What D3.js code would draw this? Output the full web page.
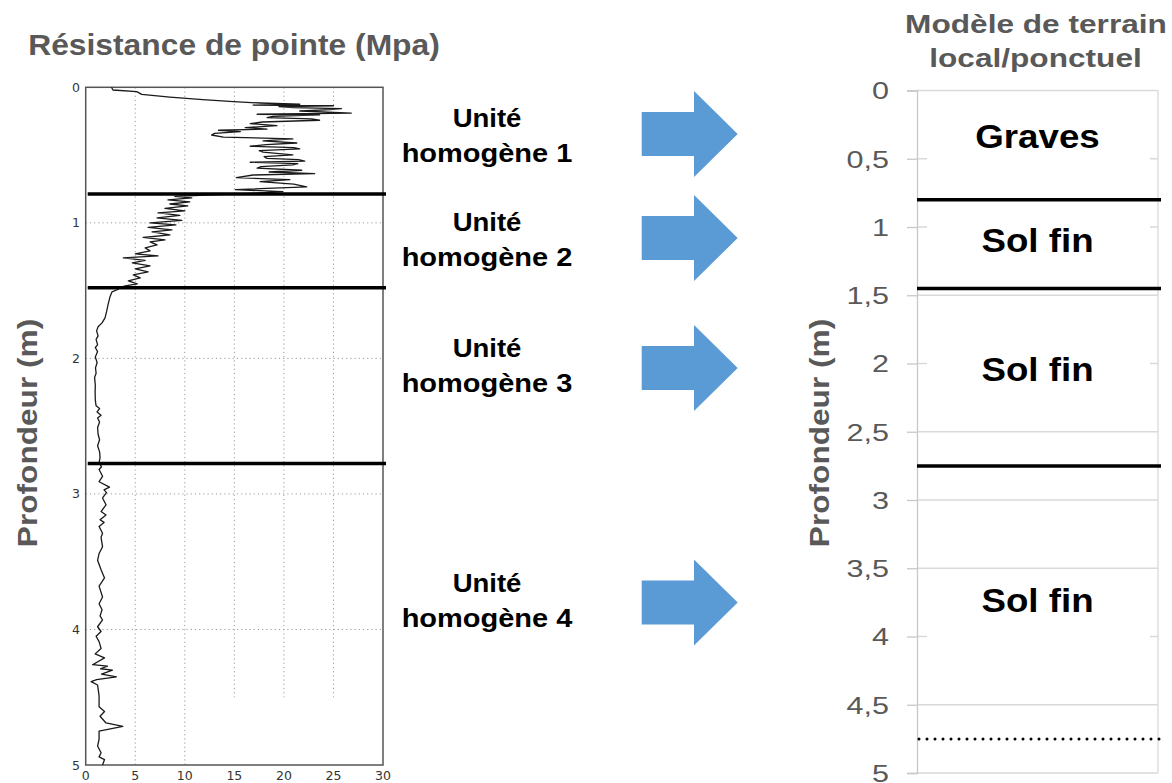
<!DOCTYPE html>
<html>
<head>
<meta charset="utf-8">
<script src="https://cdn.jsdelivr.net/npm/d3@7"></script>
<style>
  html, body { margin: 0; padding: 0; background: #fff; }
  svg { display: block; }
</style>
</head>
<body>
<svg id="chart" width="1172" height="783"></svg>
<script>
// ---- Cone penetration profile: depth (m) and tip resistance qc (MPa) ----
const depth_m = [
  0.000, 0.020, 0.032, 0.052, 0.072, 0.091, 0.106, 0.116, 0.125, 0.131,
  0.136, 0.143, 0.150, 0.158, 0.165, 0.175, 0.183, 0.190, 0.199, 0.204,
  0.214, 0.224, 0.233, 0.243, 0.256, 0.268, 0.283, 0.298, 0.308, 0.317,
  0.327, 0.340, 0.352, 0.367, 0.381, 0.396, 0.411, 0.423, 0.435, 0.445,
  0.455, 0.467, 0.479, 0.499, 0.512, 0.524, 0.534, 0.544, 0.553, 0.563,
  0.573, 0.585, 0.597, 0.612, 0.625, 0.637, 0.647, 0.667, 0.681, 0.696,
  0.715, 0.735, 0.755, 0.770, 0.780,
  0.805, 0.816, 0.831, 0.846, 0.861, 0.875, 0.894, 0.912, 0.927, 0.945,
  0.964, 0.982, 1.001, 1.015, 1.034, 1.052, 1.067, 1.089, 1.108, 1.126,
  1.141, 1.163, 1.185, 1.207, 1.229, 1.244, 1.259, 1.277, 1.296, 1.318,
  1.340, 1.362, 1.384, 1.406, 1.428, 1.451, 1.465, 1.480,
  1.490, 1.510, 1.546, 1.605, 1.657, 1.701, 1.738, 1.767, 1.797, 1.834,
  1.860, 1.900, 1.920, 1.950, 1.990, 2.030, 2.070, 2.110, 2.140, 2.200,
  2.250, 2.310, 2.350, 2.370, 2.395, 2.420, 2.440, 2.470, 2.510, 2.560,
  2.600, 2.645, 2.690, 2.730, 2.770,
  2.800, 2.820, 2.870, 2.910, 2.950, 2.970, 2.990, 3.030, 3.080, 3.130,
  3.155, 3.190, 3.210, 3.240, 3.290, 3.320, 3.390, 3.440, 3.490, 3.560,
  3.620, 3.680, 3.760, 3.810, 3.855, 3.900, 3.930, 3.980, 4.015, 4.050,
  4.090, 4.140, 4.180, 4.210, 4.260, 4.270, 4.290, 4.300, 4.330, 4.350,
  4.370, 4.385, 4.410, 4.490, 4.570, 4.605, 4.640, 4.690, 4.715, 4.750,
  4.810, 4.860, 4.910, 4.940, 4.960, 5.000
];
const qc_MPa = [
  2.6, 2.75, 5.15, 5.65, 8.5, 11.8, 14.9, 17.6, 21.6, 16.9,
  25.0, 19.5, 20.9, 25.8, 24.7, 21.6, 24.5, 26.8, 17.3, 23.6,
  18.9, 18.3, 22.8, 23.6, 17.8, 16.6, 19.3, 16.1, 18.3, 13.4,
  15.6, 13.0, 12.7, 13.9, 20.9, 17.9, 21.3, 18.2, 16.6, 21.0,
  21.6, 17.5, 17.9, 20.9, 18.0, 18.3, 21.5, 22.1, 16.6, 21.4,
  20.9, 17.7, 17.3, 21.8, 18.5, 23.1, 16.9, 15.2, 20.6, 17.6,
  21.0, 22.3, 15.1, 19.9, 17.6,
  9.0, 10.7, 8.3, 10.5, 8.5, 10.3, 8.0, 10.0, 7.3, 9.5,
  7.2, 9.7, 6.5, 9.1, 6.3, 8.7, 6.7, 8.5, 5.8, 8.0,
  6.5, 7.2, 6.0, 6.5, 5.0, 7.3, 3.8, 6.0, 4.7, 6.5,
  5.0, 6.3, 4.8, 5.5, 4.3, 5.2, 4.0, 3.3,
  3.3, 2.65, 2.45, 2.25, 2.1, 1.95, 1.65, 1.25, 1.1, 1.25,
  1.05, 1.2, 0.97, 1.2, 0.97, 1.15, 0.99, 1.05, 0.9, 0.97,
  0.95, 0.97, 1.05, 1.4, 1.15, 1.55, 1.2, 1.4, 1.2, 1.25,
  1.4, 1.2, 1.4, 1.45, 1.35,
  1.6, 1.35, 1.7, 1.35, 2.4, 1.85, 2.1, 1.7, 2.05, 1.55,
  2.05, 1.45, 1.85, 1.35, 1.7, 1.55, 1.7, 1.35, 1.2, 1.55,
  1.9, 1.35, 1.7, 1.35, 1.65, 1.45, 1.7, 1.2, 1.55, 1.05,
  1.35, 1.55, 0.95, 1.9, 0.7, 2.2, 1.5, 2.7, 1.6, 3.1,
  1.1, 0.55, 1.2, 1.35, 1.35, 1.9, 1.45, 2.05, 3.75, 1.35,
  1.35, 1.2, 1.55, 1.35, 1.9, 1.7
];

// Layer boundaries picked on the profile, and on the ground model
const profileBoundaries = [0.787, 1.478, 2.776];
const modelBoundaries = [0.80, 1.45, 2.75];
const modelLimit = 4.75;               // dotted bottom limit of the model

// Ground model layers
const layerNames = ["Graves", "Sol fin", "Sol fin", "Sol fin"];
const layerLabelDepth = [0.42, 1.18, 2.13, 3.82];

// Homogeneous units
const unitLines1 = ["Unité", "Unité", "Unité", "Unité"];
const unitLines2 = ["homogène 1", "homogène 2", "homogène 3", "homogène 4"];

// Axis ticks
const qcTicks = [0, 5, 10, 15, 20, 25, 30];
const depthTicksLeft = [0, 1, 2, 3, 4, 5];
const depthTicksRight = [0, 0.5, 1, 1.5, 2, 2.5, 3, 3.5, 4, 4.5, 5];

// ---- layout ----
const FONT = "'Liberation Sans', Arial, Helvetica, sans-serif";
const svg = d3.select("#chart");

const xL = d3.scaleLinear().domain([0, 30]).range([85.7, 383]);
const yL = d3.scaleLinear().domain([0, 5]).range([87.3, 765]);
const yR = d3.scaleLinear().domain([0, 5]).range([90.5, 773]);
const xR0 = 917, xR1 = 1158;

const frLocale = d3.formatLocale({decimal: ",", thousands: " ", grouping: [3], currency: ["", " €"]});
const fmtDepth = frLocale.format("~g");

// text helper: horizontally scaled text (sx), optional rotation
function label(parent, o) {
  const g = parent.append("g")
    .attr("transform", `translate(${o.x},${o.y}) rotate(${o.rotate || 0}) scale(${o.sx || 1},1)`);
  g.append("text")
    .attr("text-anchor", o.anchor || "middle")
    .attr("font-family", o.family || FONT)
    .attr("font-size", o.size)
    .attr("font-weight", o.weight || "normal")
    .attr("fill", o.fill || "#000")
    .text(o.text);
  return g;
}

// ================= Left panel: CPT profile =================
const left = svg.append("g");

// grid (dotted)
const gridL = left.append("g").attr("stroke", "#9a9a9a").attr("stroke-width", 1)
  .attr("stroke-dasharray", "1.2,3");
gridL.selectAll("line.v").data(qcTicks.filter(t => t > 0 && t < 30)).join("line")
  .attr("x1", d => xL(d)).attr("x2", d => xL(d))
  .attr("y1", yL(0)).attr("y2", d => d >= 15 ? yL(4.5) : yL(5));
gridL.selectAll("line.h").data(depthTicksLeft.filter(t => t > 0 && t < 5)).join("line")
  .attr("x1", xL(0)).attr("x2", xL(30))
  .attr("y1", d => yL(d)).attr("y2", d => yL(d));

// frame
left.append("rect")
  .attr("x", xL(0)).attr("y", yL(0))
  .attr("width", xL(30) - xL(0)).attr("height", yL(5) - yL(0))
  .attr("fill", "none").attr("stroke", "#555").attr("stroke-width", 1.5);

// profile line
const profile = depth_m.map((d, i) => ({depth: d, qc: qc_MPa[i]}));
left.append("path")
  .datum(profile)
  .attr("fill", "none")
  .attr("stroke", "#1a1a1a")
  .attr("stroke-width", 1.3)
  .attr("stroke-linejoin", "round")
  .attr("d", d3.line().x(d => xL(d.qc)).y(d => yL(d.depth)));

// unit boundaries
left.selectAll("line.bnd").data(profileBoundaries).join("line")
  .attr("x1", xL(0) + 2).attr("x2", xL(30) + 3)
  .attr("y1", d => yL(d)).attr("y2", d => yL(d))
  .attr("stroke", "#000").attr("stroke-width", 3.5);

// axis tick labels
left.selectAll("text.yt").data(depthTicksLeft).join("text")
  .attr("x", 80).attr("y", d => yL(d) + 4.5)
  .attr("text-anchor", "end")
  .attr("font-family", "'DejaVu Sans', sans-serif").attr("font-size", 12.5)
  .attr("fill", "#333").text(d => d);
left.selectAll("text.xt").data(qcTicks).join("text")
  .attr("x", d => xL(d)).attr("y", 780)
  .attr("text-anchor", "middle")
  .attr("font-family", "'DejaVu Sans', sans-serif").attr("font-size", 12.5)
  .attr("fill", "#333").text(d => d);

// titles
label(svg, {x: 234, y: 55, text: "Résistance de pointe (Mpa)", size: 30, weight: "bold",
  fill: "#595959", sx: 1.06});
label(svg, {x: 37, y: 433, text: "Profondeur (m)", size: 28, weight: "bold",
  fill: "#595959", rotate: -90, sx: 1.13});

// ================= Middle: homogeneous units + arrows =================
const unitBaseline = [126.7, 230.7, 356.7, 591.7];
const arrowCenter = [134, 238, 368, 602.5];
const mid = svg.append("g");
unitBaseline.forEach((y, i) => {
  label(mid, {x: 487, y: y, text: unitLines1[i], size: 25, weight: "bold", sx: 1.1});
  label(mid, {x: 487, y: y + 35, text: unitLines2[i], size: 25, weight: "bold", sx: 1.16});
});
const arrowShape = (cy) => [
  [641.7, cy - 22], [694, cy - 22], [694, cy - 43], [737.7, cy],
  [694, cy + 43], [694, cy + 22], [641.7, cy + 22]
];
mid.selectAll("polygon").data(arrowCenter).join("polygon")
  .attr("points", d => arrowShape(d).map(p => p.join(",")).join(" "))
  .attr("fill", "#5b9bd5");

// ================= Right panel: ground model =================
const right = svg.append("g");

// gridlines
right.selectAll("line.g").data(depthTicksRight).join("line")
  .attr("x1", xR0).attr("x2", xR1)
  .attr("y1", d => yR(d)).attr("y2", d => yR(d))
  .attr("stroke", "#d9d9d9").attr("stroke-width", 1.3);
right.append("line")
  .attr("x1", xR1).attr("x2", xR1).attr("y1", yR(0)).attr("y2", yR(5))
  .attr("stroke", "#d9d9d9").attr("stroke-width", 1.3);

// y axis
const axisR = right.append("g").attr("transform", `translate(${xR0},0)`)
  .call(d3.axisLeft(yR).tickValues(depthTicksRight).tickFormat(fmtDepth)
    .tickSize(10).tickPadding(18));
axisR.select(".domain").attr("stroke", "#c8c8c8").attr("stroke-width", 1.3);
axisR.selectAll(".tick line").attr("stroke", "#c8c8c8").attr("stroke-width", 1.3);
axisR.selectAll(".tick text")
  .attr("font-family", FONT).attr("font-size", 23.5).attr("fill", "#595959")
  .attr("dy", "0.36em")
  .attr("transform", "scale(1.3,1)")
  .attr("x", -28 / 1.3);

// layer label boxes and labels
const layerLabels = right.selectAll("g.layer").data(layerNames).join("g").attr("class", "layer");
layerLabels.append("rect")
  .attr("x", 927).attr("width", 223)
  .attr("y", (d, i) => yR(layerLabelDepth[i]) - 32).attr("height", 58)
  .attr("fill", "#fff");
layerLabels.each(function (d, i) {
  label(d3.select(this), {x: 1037.5, y: yR(layerLabelDepth[i]) + 0, text: d, size: 32.5,
    weight: "bold", sx: 1.13});
});

// layer boundaries
right.selectAll("line.mb").data(modelBoundaries).join("line")
  .attr("x1", xR0).attr("x2", xR1 + 3)
  .attr("y1", d => yR(d)).attr("y2", d => yR(d))
  .attr("stroke", "#000").attr("stroke-width", 3.5);
right.append("line")
  .attr("x1", xR0 + 2).attr("x2", xR1 + 3)
  .attr("y1", yR(modelLimit)).attr("y2", yR(modelLimit))
  .attr("stroke", "#000").attr("stroke-width", 3)
  .attr("stroke-linecap", "round").attr("stroke-dasharray", "0,8");

// titles
label(svg, {x: 1036, y: 33.3, text: "Modèle de terrain", size: 25.5, weight: "bold",
  fill: "#595959", sx: 1.24});
label(svg, {x: 1035.5, y: 66.7, text: "local/ponctuel", size: 25.5, weight: "bold",
  fill: "#595959", sx: 1.24});
label(svg, {x: 829, y: 433, text: "Profondeur (m)", size: 28, weight: "bold",
  fill: "#595959", rotate: -90, sx: 1.13});
</script>
</body>
</html>
